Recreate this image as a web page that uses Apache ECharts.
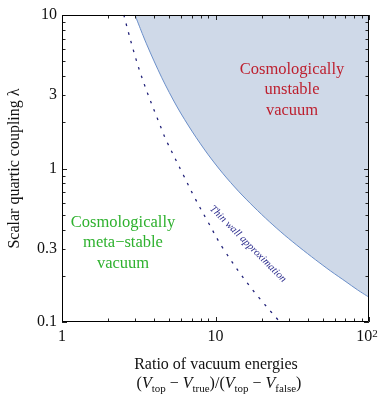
<!DOCTYPE html>
<html>
<head>
<meta charset="utf-8">
<script src="https://cdn.jsdelivr.net/npm/echarts@6/dist/echarts.min.js"></script>
<style>
html,body{margin:0;padding:0;background:#fff;}
#chart{width:380px;height:396px;}
</style>
</head>
<body>
<div id="chart"></div>
<script>
// ---- data ----
// Boundary of the "cosmologically unstable" region (x: energy ratio, y: lambda)
const unstableX = [2.99, 3.55, 4.47, 5.62, 7.08, 8.91, 11.2, 14.1, 17.8, 22.4, 28.2, 35.5, 44.7, 56.2, 70.8, 84.1, 100];
const unstableY = [10, 6.49, 3.90, 2.52, 1.73, 1.24, 0.925, 0.712, 0.561, 0.451, 0.368, 0.305, 0.255, 0.215, 0.183, 0.162, 0.145];
// Thin wall approximation curve
const thinX = [2.53, 3.22, 4.57, 4.83, 6.17, 7.35, 8.94, 11.2, 16.8, 26.3];
const thinY = [10, 4.27, 1.69, 1.49, 0.908, 0.64, 0.448, 0.302, 0.17, 0.1];
// Ticks
const xMajorTicks = [1, 10, 100];
const xMinorTicks = [2, 3, 4, 5, 6, 7, 8, 9, 20, 30, 40, 50, 60, 70, 80, 90];
const yMajorTicks = [0.1, 1, 10];
const yMinorTicks = [0.2, 0.3, 0.4, 0.5, 0.6, 0.7, 0.8, 0.9, 2, 3, 4, 5, 6, 7, 8, 9];
const xTickLabelValues = [1, 10, 100];
const xTickLabelTexts = ['1', '10', '10{sup|2}'];
const yTickLabelValues = [0.1, 0.3, 1, 3, 10];
const yTickLabelTexts = ['0.1', '0.3', '1', '3', '10'];

const FONT = '"Liberation Serif", "Times New Roman", serif';

const chart = echarts.init(document.getElementById('chart'), null, {renderer: 'canvas'});

function zip(a, b) { return a.map((v, i) => [v, b[i]]); }

function tickSeries(values, axis, len) {
  return {
    type: 'custom',
    coordinateSystem: 'cartesian2d',
    silent: true,
    z: 10,
    data: values.map(v => axis === 'x' ? [v, 1] : [1, v]),
    renderItem: function (params, api) {
      const cs = params.coordSys;
      const st = {stroke: '#222', lineWidth: 1};
      if (axis === 'x') {
        const px = Math.round(api.coord([api.value(0), 1])[0]) + 0.5;
        const yb = cs.y + cs.height, yt = cs.y;
        return {type: 'group', children: [
          {type: 'line', shape: {x1: px, y1: yb, x2: px, y2: yb - len}, style: st},
          {type: 'line', shape: {x1: px, y1: yt, x2: px, y2: yt + len}, style: st}
        ]};
      } else {
        const py = Math.round(api.coord([1, api.value(1)])[1]) + 0.5;
        const xl = cs.x, xr = cs.x + cs.width;
        return {type: 'group', children: [
          {type: 'line', shape: {x1: xl, y1: py, x2: xl + len, y2: py}, style: st},
          {type: 'line', shape: {x1: xr, y1: py, x2: xr - len, y2: py}, style: st}
        ]};
      }
    }
  };
}

function labelSeries(values, texts, axis) {
  return {
    type: 'custom',
    coordinateSystem: 'cartesian2d',
    silent: true,
    z: 10,
    data: values.map(v => axis === 'x' ? [v, 1] : [1, v]),
    renderItem: function (params, api) {
      const cs = params.coordSys;
      const t = texts[params.dataIndex];
      if (axis === 'x') {
        const px = api.coord([api.value(0), 1])[0];
        return {type: 'text', x: px + (t.length > 3 ? -2 : 0), y: cs.y + cs.height + 7,
          style: {text: t, textAlign: 'center', textVerticalAlign: 'top',
            fontFamily: FONT, fontSize: 16, fill: '#111',
            rich: {sup: {fontFamily: FONT, fontSize: 11, verticalAlign: 'top', fill: '#111'}}}};
      } else {
        const py = api.coord([1, api.value(1)])[1];
        return {type: 'text', x: cs.x - 5, y: py,
          style: {text: t, textAlign: 'right', textVerticalAlign: 'middle',
            fontFamily: FONT, fontSize: 16, fill: '#111'}};
      }
    }
  };
}

const frameSeries = {
  type: 'custom',
  coordinateSystem: 'cartesian2d',
  silent: true,
  z: 11,
  data: [[1, 1]],
  renderItem: function (params) {
    const cs = params.coordSys;
    return {type: 'rect',
      shape: {x: Math.round(cs.x) + 0.5, y: Math.round(cs.y) + 0.5,
        width: Math.round(cs.width) - 1, height: Math.round(cs.height) - 1},
      style: {fill: 'none', stroke: '#000', lineWidth: 1}};
  }
};

const option = {
  animation: false,
  backgroundColor: '#fff',
  grid: {left: 62, right: 11, top: 15, bottom: 74, containLabel: false, outerBoundsMode: 'none'},
  xAxis: {
    type: 'log', logBase: 10, min: 1, max: 100,
    axisLine: {show: false}, axisTick: {show: false}, axisLabel: {show: false}, splitLine: {show: false}
  },
  yAxis: {
    type: 'log', logBase: 10, min: 0.1, max: 10,
    axisLine: {show: false}, axisTick: {show: false}, axisLabel: {show: false}, splitLine: {show: false}
  },
  series: [
    {
      type: 'line',
      data: zip(unstableX, unstableY),
      smooth: 0.3,
      symbol: 'none',
      z: 2,
      lineStyle: {color: '#6b8fc9', width: 1},
      areaStyle: {color: '#cfd9e8', opacity: 1, origin: 'end'}
    },
    {
      type: 'line',
      data: zip(thinX, thinY),
      smooth: 0.4,
      symbol: 'none',
      z: 3,
      lineStyle: {color: '#23237a', width: 1.3, type: [2.5, 6.5]}
    },
    tickSeries(xMajorTicks, 'x', 5),
    tickSeries(xMinorTicks, 'x', 3.5),
    tickSeries(yMajorTicks, 'y', 5),
    tickSeries(yMinorTicks, 'y', 3.5),
    labelSeries(xTickLabelValues, xTickLabelTexts, 'x'),
    labelSeries(yTickLabelValues, yTickLabelTexts, 'y'),
    frameSeries
  ],
  graphic: [
    {type: 'text', x: 292, y: 90, z: 20, silent: true,
      style: {text: 'Cosmologically\nunstable\nvacuum', textAlign: 'center', textVerticalAlign: 'middle',
        fontFamily: FONT, fontSize: 16.5, lineHeight: 20.5, fill: '#bd1f2e'}},
    {type: 'text', x: 123, y: 243, z: 20, silent: true,
      style: {text: 'Cosmologically\nmeta\u2212stable\nvacuum', textAlign: 'center', textVerticalAlign: 'middle',
        fontFamily: FONT, fontSize: 16.5, lineHeight: 20.5, fill: '#2eb12e'}},
    {type: 'text', x: 248, y: 244, z: 20, silent: true, rotation: -Math.PI / 4,
      style: {text: 'Thin wall approximation', textAlign: 'center', textVerticalAlign: 'middle',
        fontFamily: FONT, fontStyle: 'italic', fontSize: 10.5, fill: '#2a2a8c'}},
    {type: 'text', x: 15, y: 168.5, z: 20, silent: true, rotation: Math.PI / 2,
      style: {text: 'Scalar quartic coupling \u03bb', textAlign: 'center', textVerticalAlign: 'middle',
        fontFamily: FONT, fontSize: 16, fill: '#111'}},
    {type: 'text', x: 216, y: 365, z: 20, silent: true,
      style: {text: 'Ratio of vacuum energies', textAlign: 'center', textVerticalAlign: 'middle',
        fontFamily: FONT, fontSize: 16, fill: '#111'}},
    {type: 'text', x: 219, y: 384, z: 20, silent: true,
      style: {text: '{n|(}{i|V}{s|top}{n| \u2212 }{i|V}{s|true}{n|)/(}{i|V}{s|top}{n| \u2212 }{i|V}{s|false}{n|)}',
        textAlign: 'center', textVerticalAlign: 'middle',
        rich: {
          n: {fontFamily: FONT, fontSize: 16, lineHeight: 22, fill: '#111'},
          i: {fontFamily: FONT, fontSize: 16, fontStyle: 'italic', lineHeight: 22, fill: '#111'},
          s: {fontFamily: FONT, fontSize: 11, lineHeight: 11, verticalAlign: 'bottom', fill: '#111'}
        }}}
  ]
};
chart.setOption(option);
</script>
</body>
</html>
